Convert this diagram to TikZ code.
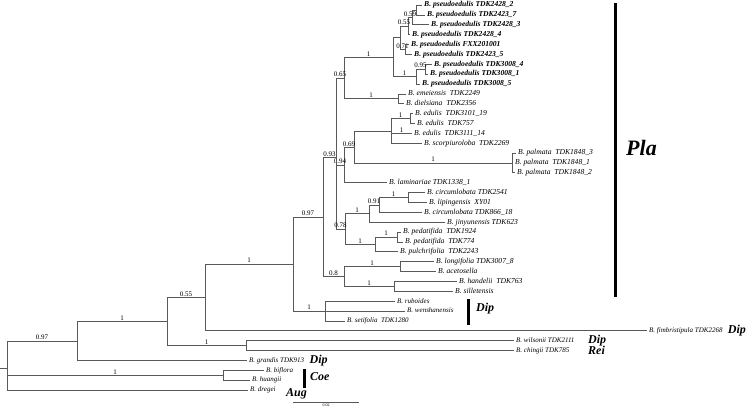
\documentclass[tikz,border=0pt]{standalone}
\usepackage{fontspec}
\setmainfont{Liberation Serif}
\usepackage{tikz}
\usetikzlibrary{positioning}

\tikzset{
  ramo/.style={draw=black!65, line width=0.6pt},
  foglia/.style={anchor=west, inner sep=2pt, text height=5pt, text depth=1.2pt,
    font=\fontsize{7.6}{8}\selectfont\itshape},
  fogliab/.style={foglia, font=\fontsize{7.6}{8}\selectfont\bfseries\itshape},
  fogliap/.style={foglia, font=\fontsize{7}{8}\selectfont\itshape},
  sup/.style={above, pos=0.75, inner sep=0.8pt, font=\fontsize{7}{8}\selectfont},
  clade/.style={anchor=west, inner sep=0pt, font=\fontsize{12}{12}\selectfont\bfseries\itshape},
  barra/.style={line width=3pt}
}

\begin{document}
\begin{tikzpicture}[x=1pt, y=-9.87pt]
    \useasboundingbox (0,-0.507) rectangle (756,41.135);

    % Nodi interni
    \coordinate (n1) at (416,0.5);
    \coordinate (n2) at (412,1.25);
    \coordinate (n3) at (408,2.125);
    \coordinate (n4) at (405,4.5);
    \coordinate (n5) at (400,3.3125);
    \coordinate (n6) at (425,6.5);
    \coordinate (n7) at (416,7.25);
    \coordinate (n8) at (393,5.281);
    \coordinate (n9) at (398,9.5);
    \coordinate (n10) at (344,7.391);
    \coordinate (n11) at (410,11.5);
    \coordinate (n12) at (391,12.833);
    \coordinate (n13) at (512,16);
    \coordinate (n14) at (354,14.417);
    \coordinate (n15) at (344,16.208);
    \coordinate (n16) at (408,19.5);
    \coordinate (n17) at (379,20.25);
    \coordinate (n18) at (369,21.125);
    \coordinate (n19) at (397,23.5);
    \coordinate (n20) at (375,24.25);
    \coordinate (n21) at (345,22.688);
    \coordinate (n22) at (336,15.429);
    \coordinate (n23) at (400,26.5);
    \coordinate (n24) at (394,28.5);
    \coordinate (n25) at (344,27.5);
    \coordinate (n26) at (323,21.464);
    \coordinate (n27) at (325,31);
    \coordinate (n28) at (293,26.232);
    \coordinate (n29) at (205,29.616);
    \coordinate (n30) at (246,34.5);
    \coordinate (n31) at (167,32.058);
    \coordinate (n32) at (77,34.029);
    \coordinate (n33) at (223,37.5);
    \coordinate (radice) at (7,36.843);
    \coordinate (base) at (0,36.843);

    % Foglie
    \node[fogliab] (l0) at (422,0) {B. pseudoedulis TDK2428\_2};
    \node[fogliab] (l1) at (425,1) {B. pseudoedulis TDK2423\_7};
    \node[fogliab] (l2) at (429,2) {B. pseudoedulis TDK2428\_3};
    \node[fogliab] (l3) at (410,3) {B. pseudoedulis TDK2428\_4};
    \node[fogliab] (l4) at (409,4) {B. pseudoedulis FXX201001};
    \node[fogliab] (l5) at (412,5) {B. pseudoedulis TDK2423\_5};
    \node[fogliab] (l6) at (432,6) {B. pseudoedulis TDK3008\_4};
    \node[fogliab] (l7) at (428,7) {B. pseudoedulis TDK3008\_1};
    \node[fogliab] (l8) at (420,8) {B. pseudoedulis TDK3008\_5};
    \node[foglia] (l9) at (406,9) {B. emeiensis\ \ TDK2249};
    \node[foglia] (l10) at (404,10) {B. dielsiana\ \ TDK2356};
    \node[foglia] (l11) at (413,11) {B. edulis\ \ TDK3101\_19};
    \node[foglia] (l12) at (415,12) {B. edulis\ \ TDK757};
    \node[foglia] (l13) at (412,13) {B. edulis\ \ TDK3111\_14};
    \node[foglia] (l14) at (422,14) {B. scorpiuroloba\ \ TDK2269};
    \node[foglia] (l15) at (516,15) {B. palmata\ \ TDK1848\_3};
    \node[foglia] (l16) at (513,16) {B. palmata\ \ TDK1848\_1};
    \node[foglia] (l17) at (515,17) {B. palmata\ \ TDK1848\_2};
    \node[foglia] (l18) at (387,18) {B. laminariae TDK1338\_1};
    \node[foglia] (l19) at (425,19) {B. circumlobata TDK2541};
    \node[foglia] (l20) at (427,20) {B. lipingensis\ \ XY01};
    \node[foglia] (l21) at (422,21) {B. circumlobata TDK866\_18};
    \node[foglia] (l22) at (445,22) {B. jinyunensis TDK623};
    \node[foglia] (l23) at (401,23) {B. pedatifida\ \ TDK1924};
    \node[foglia] (l24) at (403,24) {B. pedatifida\ \ TDK774};
    \node[foglia] (l25) at (398,25) {B. pulchrifolia\ \ TDK2243};
    \node[foglia] (l26) at (434,26) {B. longifolia TDK3007\_8};
    \node[foglia] (l27) at (436,27) {B. acetosella};
    \node[foglia] (l28) at (457,28) {B. handelii\ \ TDK763};
    \node[foglia] (l29) at (453,29) {B. silletensis};
    \node[fogliap] (l30) at (395,30) {B. ruboides};
    \node[fogliap] (l31) at (405,31) {B. wenshanensis};
    \node[fogliap] (l32) at (345,32) {B. setifolia\ \ TDK1280};
    \node[fogliap] (l33) at (647,33) {B. fimbristipula TDK2268};
    \node[fogliap] (l34) at (514,34) {B. wilsonii TDK2111};
    \node[fogliap] (l35) at (514,35) {B. chingii TDK785};
    \node[fogliap] (l36) at (247,36) {B. grandis TDK913};
    \node[fogliap] (l37) at (264,37) {B. biflora};
    \node[fogliap] (l38) at (250,38) {B. huangii};
    \node[fogliap] (l39) at (248,39) {B. dregei};

    % Rami (clade pseudoedulis)
    \draw[ramo] (n1) |- (l0.west);
    \draw[ramo] (n1) |- (l1.west);
    \draw[ramo] (n2) |- (n1);
    \draw[ramo] (n2) |- (l2.west);
    \draw[ramo] (n3) |- node[sup] {0.59} (n2);
    \draw[ramo] (n3) |- (l3.west);
    \draw[ramo] (n5) |- node[sup] {0.55} (n3);
    \draw[ramo] (n5) |- node[sup] {0.71} (n4);
    \draw[ramo] (n4) |- (l4.west);
    \draw[ramo] (n4) |- (l5.west);
    \draw[ramo] (n6) |- (l6.west);
    \draw[ramo] (n6) |- (l7.west);
    \draw[ramo] (n7) |- node[sup] {0.95} (n6);
    \draw[ramo] (n7) |- (l8.west);
    \draw[ramo] (n8) |- (n5);
    \draw[ramo] (n8) |- node[sup] {1} (n7);
    \draw[ramo] (n9) |- (l9.west);
    \draw[ramo] (n9) |- (l10.west);
    \draw[ramo] (n10) |- node[sup] {1} (n8);
    \draw[ramo] (n10) |- node[sup] {1} (n9);

    % Rami (edulis, palmata)
    \draw[ramo] (n11) |- (l11.west);
    \draw[ramo] (n11) |- (l12.west);
    \draw[ramo] (n12) |- node[sup] {1} (n11);
    \draw[ramo] (n12) |- node[sup] {1} (l13.west);
    \draw[ramo] (n12) |- (l14.west);
    \draw[ramo] (n13) |- (l15.west);
    \draw[ramo] (n13) |- (l16.west);
    \draw[ramo] (n13) |- (l17.west);
    \draw[ramo] (n14) |- (n12);
    \draw[ramo] (n14) |- node[sup] {1} (n13);
    \draw[ramo] (n15) |- node[sup] {0.69} (n14);
    \draw[ramo] (n15) |- (l18.west);

    % Rami (circumlobata, pedatifida)
    \draw[ramo] (n16) |- (l19.west);
    \draw[ramo] (n16) |- (l20.west);
    \draw[ramo] (n17) |- node[sup] {1} (n16);
    \draw[ramo] (n17) |- (l21.west);
    \draw[ramo] (n18) |- node[sup] {0.91} (n17);
    \draw[ramo] (n18) |- (l22.west);
    \draw[ramo] (n19) |- (l23.west);
    \draw[ramo] (n19) |- (l24.west);
    \draw[ramo] (n20) |- node[sup] {1} (n19);
    \draw[ramo] (n20) |- (l25.west);
    \draw[ramo] (n21) |- node[sup] {1} (n18);
    \draw[ramo] (n21) |- node[sup] {1} (n20);
    \draw[ramo] (n22) |- node[sup] {0.65} (n10);
    \draw[ramo] (n22) |- node[sup] {0.94} (n15);
    \draw[ramo] (n22) |- node[sup] {0.78} (n21);

    % Rami (longifolia, handelii)
    \draw[ramo] (n23) |- (l26.west);
    \draw[ramo] (n23) |- (l27.west);
    \draw[ramo] (n24) |- (l28.west);
    \draw[ramo] (n24) |- (l29.west);
    \draw[ramo] (n25) |- node[sup] {1} (n23);
    \draw[ramo] (n25) |- node[sup] {1} (n24);
    \draw[ramo] (n26) |- node[sup] {0.93} (n22);
    \draw[ramo] (n26) |- node[sup] {0.8} (n25);

    % Rami (base dell'albero)
    \draw[ramo] (n27) |- (l30.west);
    \draw[ramo] (n27) |- (l31.west);
    \draw[ramo] (n27) |- (l32.west);
    \draw[ramo] (n28) |- node[sup] {0.97} (n26);
    \draw[ramo] (n28) |- node[sup] {1} (n27);
    \draw[ramo] (n29) |- node[sup] {1} (n28);
    \draw[ramo] (n29) |- (l33.west);
    \draw[ramo] (n30) |- (l34.west);
    \draw[ramo] (n30) |- (l35.west);
    \draw[ramo] (n31) |- node[sup] {0.55} (n29);
    \draw[ramo] (n31) |- node[sup] {1} (n30);
    \draw[ramo] (n32) |- node[sup] {1} (n31);
    \draw[ramo] (n32) |- (l36.west);
    \draw[ramo] (n33) |- (l37.west);
    \draw[ramo] (n33) |- (l38.west);
    \draw[ramo] (radice) |- node[sup] {0.97} (n32);
    \draw[ramo] (radice) |- node[sup] {1} (n33);
    \draw[ramo] (radice) |- (l39.west);
    \draw[ramo] (base) -- (radice);

    % Sezioni
    \draw[barra] (615,-0.2) -- (615,29.6);
    \node[clade, font=\fontsize{22}{22}\selectfont\bfseries\itshape] (pla) at (626,14.5) {Pla};
    \draw[barra] (468,29.8) -- (468,32.4);
    \node[clade] (dip1) at (476,30.8) {Dip};
    \node[clade, right=3pt of l33] (dip2) {Dip};
    \node[clade] (dip3) at (588,34) {Dip};
    \node[clade] (rei) at (dip3.west |- l35.west) {Rei};
    \node[clade, right=3pt of l36] (dip4) {Dip};
    \draw[barra] (304,36.9) -- (304,38.8);
    \node[clade] (coe) at (310,37.6) {Coe};
    \node[clade] (aug) at (286,39.4) {Aug};

    % Scala
    \draw[ramo] (293,40.23) -- node[below, inner sep=1.5pt, font=\fontsize{4}{4}\selectfont] (scala) {0.02} (359,40.23);
\end{tikzpicture}
\end{document}
